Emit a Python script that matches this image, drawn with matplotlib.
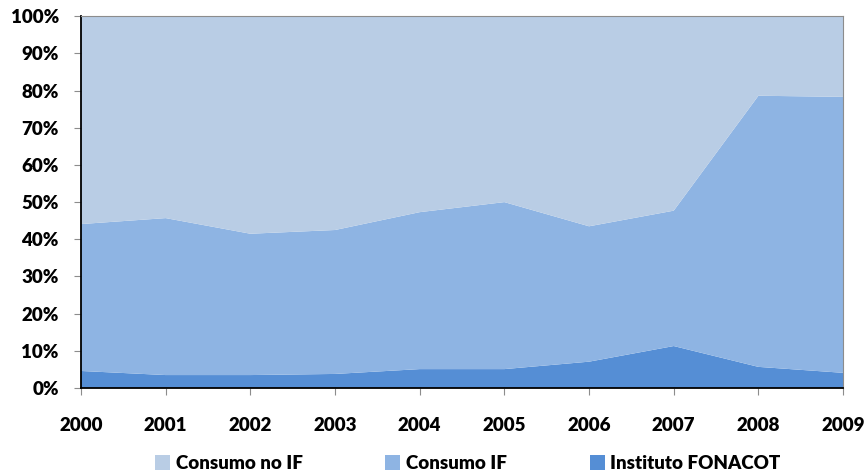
import numpy as np
import matplotlib.pyplot as plt
from matplotlib.patches import Patch
from matplotlib.ticker import PercentFormatter

years = [2000, 2001, 2002, 2003, 2004, 2005, 2006, 2007, 2008, 2009]
# share of each layer, percent
fonacot = [4.6, 3.5, 3.5, 3.8, 5.1, 5.1, 7.1, 11.3, 5.7, 4.1]
consumo_if_top = [44.1, 45.7, 41.5, 42.5, 47.3, 50.0, 43.5, 47.7, 78.6, 78.3]
consumo_if = [t - f for t, f in zip(consumo_if_top, fonacot)]
consumo_no_if = [100 - t for t in consumo_if_top]

labels = ["Consumo no IF", "Consumo IF", "Instituto FONACOT"]
colors = ["#B9CDE5", "#8EB4E3", "#558ED5"]

plt.rcParams['font.family'] = ['Lato', 'DejaVu Sans']
plt.rcParams['font.weight'] = 'heavy'

fig = plt.figure(figsize=(8.68, 4.75), dpi=100)
ax = fig.add_axes([0.0933, 0.183, 0.878, 0.783])

ax.stackplot(years, fonacot, consumo_if, consumo_no_if,
             colors=[colors[2], colors[1], colors[0]], linewidth=0)

ax.set_xlim(2000, 2009)
ax.set_ylim(0, 100)
ax.set_yticks(np.arange(0, 101, 10))
ax.yaxis.set_major_formatter(PercentFormatter(decimals=0))
ax.set_xticks(years)

for s in ["top", "right"]:
    ax.spines[s].set_color("#8c8c8c")
for s in ["left", "bottom"]:
    ax.spines[s].set_color("black")
    ax.spines[s].set_linewidth(1.3)
ax.tick_params(axis="both", colors="#8c8c8c", labelcolor="black", labelsize=13.5, length=5)
ax.tick_params(axis="y", pad=11)
ax.tick_params(axis="x", pad=16)
for lab in ax.get_xticklabels() + ax.get_yticklabels():
    lab.set_fontweight("heavy")

handles = [Patch(facecolor=c, edgecolor="none") for c in colors]
fig.legend(handles, labels, loc="center", bbox_to_anchor=(0.539, 0.024), ncol=3,
           frameon=False, handlelength=0.8, handleheight=0.8,
           handletextpad=0.3, columnspacing=4.4, prop={"weight": "heavy", "size": 13.5})

fig.savefig("out.png", dpi=100)
